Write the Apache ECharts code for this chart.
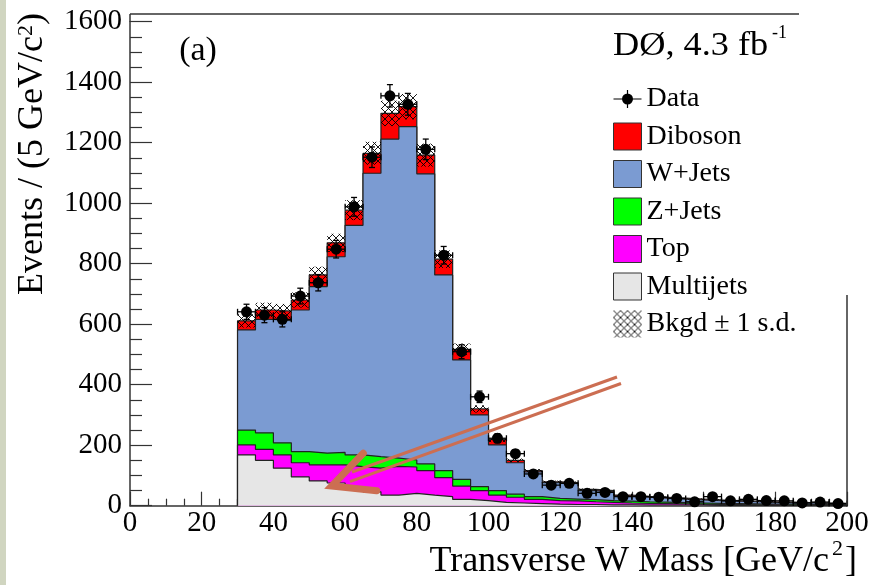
<!DOCTYPE html>
<html><head><meta charset="utf-8">
<script src="https://cdn.jsdelivr.net/npm/echarts@6/dist/echarts.min.js"></script>
<style>html,body{margin:0;padding:0;background:#fff;}#c{width:872px;height:585px;}</style>
</head><body><div id="c"></div>
<script>
// ---- data ----
const binLow    = [30,35,40,45,50,55,60,65,70,75,80,85,90,95,100,105,110,115,120,125,130,135,140,145,150,155,160,165,170,175,180,185,190,195];
const multijets = [168,150,124,95,82,75,63,46,35,41, 35,30,21,17,11,9,7,5,4,4, 3,3,2,2,2,2,1,1,1,1, 1,1,1,1];
const topq      = [33,36,44,47,53,60,66,78,95,87, 81,63,44,33,24,19,14,12,12,9, 8,6,6,5,4,3,3,3,2,2, 1,1,1,1];
const zjets     = [49,55,40,37,39,41,39,38,27,23, 22,23,22,13,15,10,9,7,6,7, 6,6,5,5,4,4,4,3,3,2, 3,2,2,1];
const wjets     = [331,375,404,468,550,647,759,937,1055,1102, 959,647,395,237,151,104,82,52,51,30, 29,17,15,13,12,10,9,8,7,6, 5,5,4,4];
const diboson   = [30,31,31,33,39,46,50,66,85,66, 62,52,35,20,18,8,4,3,3,4, 4,3,3,3,3,3,2,2,2,2, 2,1,1,1];
const dataVals  = [641,630,616,693,737,848,988,1152,1355,1327, 1178,828,509,360,223,172,105,68,74,41, 44,30,30,28,24,13,30,16,21,17, 16,9,12,7];
const dataErr   = [25,25,25,26,27,29,31,34,37,36, 34,29,23,19,15,13,10,8,9,6, 7,5,5,5,5,4,5,4,5,4, 4,3,3,3];
const bkgdErr   = [22,24,24,25,27,30,33,38,42,42, 38,29,19,12,9,6,5,4,4,3, 3,2,2,2,2,2,2,2,2,2, 2,1,1,1];
const binWidth  = 5;
const xTicks = [0,20,40,60,80,100,120,140,160,180,200];
const yTicks = [0,200,400,600,800,1000,1200,1400,1600];

const FONT = '"Liberation Serif","Times New Roman",serif';
const COL = {Diboson:'#ff0000', 'W+Jets':'#7b9bd2', 'Z+Jets':'#00ff00', Top:'#ff00ff', Multijets:'#e6e6e6'};

// cumulative stacks (bottom -> top)
const comps = [['Multijets',multijets],['Top',topq],['Z+Jets',zjets],['W+Jets',wjets],['Diboson',diboson]];
const cums = []; let run = binLow.map(()=>0);
comps.forEach(([n,a])=>{ run = run.map((v,i)=>v+a[i]); cums.push([n,run.slice()]); });
const total = cums[cums.length-1][1];
const xEnd = binLow[binLow.length-1]+binWidth;
function stepData(c){
  const d=[[binLow[0],0]];
  binLow.forEach((x,i)=>d.push([x,c[i]]));
  d.push([xEnd,c[c.length-1]]); d.push([xEnd,0]);
  return d;
}

// hatch pattern
const pc=document.createElement('canvas'); pc.width=7; pc.height=7;
const g=pc.getContext('2d'); g.strokeStyle='#000'; g.lineWidth=0.9;
g.beginPath(); g.moveTo(0,0); g.lineTo(7,7); g.moveTo(7,0); g.lineTo(0,7); g.stroke();
const hatch={image:pc, repeat:'repeat'};

const stackSeries = cums.slice().reverse().map(([n,c],k)=>({
  name:n, type:'line', step:'end', data:stepData(c), symbol:'none', silent:true,
  color:COL[n], lineStyle:{color:'#222', width:1.2}, areaStyle:{color:COL[n], opacity:1}, z:2+k
}));

const hatchSeries = {
  name:'Bkgd ± 1 s.d.', type:'custom', silent:true, z:8, itemStyle:{color:hatch},
  encode:{x:0,y:1},
  data: binLow.map((x,i)=>[x,total[i],bkgdErr[i]]),
  renderItem(p,api){
    const x=api.value(0), t=api.value(1), e=api.value(2);
    const a=api.coord([x,t+e]), b=api.coord([x+binWidth,t-e]);
    return {type:'rect', shape:{x:a[0],y:a[1],width:b[0]-a[0],height:b[1]-a[1]}, style:{fill:hatch}};
  }
};

const dataSeries = {
  name:'Data', type:'custom', silent:true, z:9, itemStyle:{color:'#000'},
  encode:{x:0,y:1},
  data: binLow.map((x,i)=>[x+binWidth/2,dataVals[i],dataErr[i]]),
  renderItem(p,api){
    const x=api.value(0), y=api.value(1), e=api.value(2);
    const c=api.coord([x,y]), l=api.coord([x-binWidth/2,y]), r=api.coord([x+binWidth/2,y]);
    const t=api.coord([x,y+e]), b=api.coord([x,Math.max(0,y-e)]);
    const st={stroke:'#000', lineWidth:1.3};
    const ln=(x1,y1,x2,y2)=>({type:'line', shape:{x1,y1,x2,y2}, style:st});
    return {type:'group', children:[
      ln(l[0],c[1],r[0],c[1]), ln(c[0],t[1],c[0],b[1]),
      ln(c[0]-3,t[1],c[0]+3,t[1]), ln(c[0]-3,b[1],c[0]+3,b[1]),
      ln(l[0],c[1]-3,l[0],c[1]+3), ln(r[0],c[1]-3,r[0],c[1]+3),
      {type:'circle', shape:{cx:c[0],cy:c[1],r:5.5}, style:{fill:'#000'}}
    ]};
  }
};

const chart = echarts.init(document.getElementById('c'));
const axisCol='#333';
const lab = {margin:3, fontFamily:FONT, fontSize:29, color:'#000', formatter:v=>String(v)};
chart.setOption({
  animation:false,
  backgroundColor:'#fff',
  textStyle:{fontFamily:FONT},
  grid:{left:130, right:25, top:21.7, bottom:79.3, containLabel:false},
  xAxis:{type:'value', min:xTicks[0], max:xTicks[xTicks.length-1], interval:xTicks[1]-xTicks[0],
    axisLine:{show:true, onZero:false, lineStyle:{color:axisCol, width:1.5}},
    axisTick:{show:true, inside:true, length:14, lineStyle:{color:axisCol, width:1.2}},
    minorTick:{show:true, splitNumber:4, length:7, lineStyle:{color:axisCol, width:1.2}},
    splitLine:{show:false}, minorSplitLine:{show:false},
    axisLabel:Object.assign({}, lab, {margin:3})},
  yAxis:{type:'value', min:yTicks[0], max:yTicks[yTicks.length-1], interval:yTicks[1]-yTicks[0],
    axisLine:{show:true, lineStyle:{color:axisCol, width:1.5}},
    axisTick:{show:true, inside:true, length:22, lineStyle:{color:axisCol, width:1.2}},
    minorTick:{show:true, splitNumber:4, length:12, lineStyle:{color:axisCol, width:1.2}},
    splitLine:{show:false}, minorSplitLine:{show:false},
    axisLabel:Object.assign({}, lab, {margin:8})},
  legend:{orient:'vertical', left:613, top:85, padding:0, itemWidth:28, itemHeight:27, itemGap:9.5,
    selectedMode:false, textStyle:{fontFamily:FONT, fontSize:28, color:'#000'},
    data:[
      {name:'Data', icon:'path://M0,8.4H28V9.6H0Z M13.4,0H14.6V18H13.4Z M19.5,9A5.5,5.5,0,1,1,8.5,9A5.5,5.5,0,1,1,19.5,9Z', itemStyle:{color:'#000', borderWidth:0}},
      {name:'Diboson', icon:'rect', itemStyle:{color:COL.Diboson, borderColor:'#333', borderWidth:1}},
      {name:'W+Jets', icon:'rect', itemStyle:{color:COL['W+Jets'], borderColor:'#333', borderWidth:1}},
      {name:'Z+Jets', icon:'rect', itemStyle:{color:COL['Z+Jets'], borderColor:'#333', borderWidth:1}},
      {name:'Top', icon:'rect', itemStyle:{color:COL.Top, borderColor:'#333', borderWidth:1}},
      {name:'Multijets', icon:'rect', itemStyle:{color:COL.Multijets, borderColor:'#333', borderWidth:1}},
      {name:'Bkgd ± 1 s.d.', icon:'rect', itemStyle:{color:hatch, borderWidth:0}}
    ]},
  series:[...stackSeries, hatchSeries, dataSeries]
});

// annotation arrow defined in data coordinates
const arrowColor='#cc6e52';
const P=(x,y)=>chart.convertToPixel({gridIndex:0},[x,y]);
const tip=P(56.26,65.1), w1=P(65.08,173.2), w2=P(68.82,49.6);
const u1=P(61.92,111.4), u2=P(135.84,425.5), l1=P(61.37,79.7), l2=P(136.96,404.0);
const txt=(id,x,y,text,size,align,extra)=>Object.assign({type:'text', id, x, y, z:100,
  style:{text, font:size+'px '+FONT, fill:'#000', align, textAlign:align, verticalAlign:'middle', textVerticalAlign:'middle'}}, extra||{});
chart.setOption({graphic:[
  {type:'rect', id:'strip', shape:{x:0,y:0,width:6,height:585}, style:{fill:'#d0d5c0'}, z:100},
  {type:'line', id:'ftop', shape:{x1:130,y1:14,x2:799,y2:14}, style:{stroke:axisCol, lineWidth:1.5}, z:100},
  {type:'line', id:'fleft', shape:{x1:130,y1:14,x2:130,y2:22}, style:{stroke:axisCol, lineWidth:1.5}, z:100},
  {type:'line', id:'fright', shape:{x1:847,y1:295,x2:847,y2:505.7}, style:{stroke:axisCol, lineWidth:1.5}, z:100},
  txt('lab_a',198,51,'(a)',34,'center'),
  txt('d0',613,46,'DØ, 4.3 fb',33,'left',{scaleX:1.1}),
  txt('d0sup',772,33,'-1',18,'left'),
  txt('xt1',829,562,'Transverse W Mass [GeV/c',36,'right'),
  txt('xt2',832,549,'2',22,'left'),
  txt('xt3',845,562,']',36,'left'),
  {type:'text', id:'ytitle', x:33, y:13, rotation:Math.PI/2, z:100, style:{
    text:'{m|Events / (5 GeV/c}{s|2}{m|)}',
    rich:{m:{font:'36px '+FONT, fill:'#000', color:'#000'}, s:{font:'22px '+FONT, fill:'#000', color:'#000', verticalAlign:'top', lineHeight:10}},
    align:'right', textAlign:'right', verticalAlign:'middle', textVerticalAlign:'middle'}},
  {type:'line', id:'al1', shape:{x1:u1[0],y1:u1[1],x2:u2[0],y2:u2[1]}, style:{stroke:arrowColor, lineWidth:3}, z:101},
  {type:'line', id:'al2', shape:{x1:l1[0],y1:l1[1],x2:l2[0],y2:l2[1]}, style:{stroke:arrowColor, lineWidth:3}, z:101},
  {type:'polyline', id:'ahead', shape:{points:[w1,tip,w2]}, style:{stroke:arrowColor, lineWidth:7, lineCap:'round', lineJoin:'miter', fill:null}, z:102}
]});
</script></body></html>
